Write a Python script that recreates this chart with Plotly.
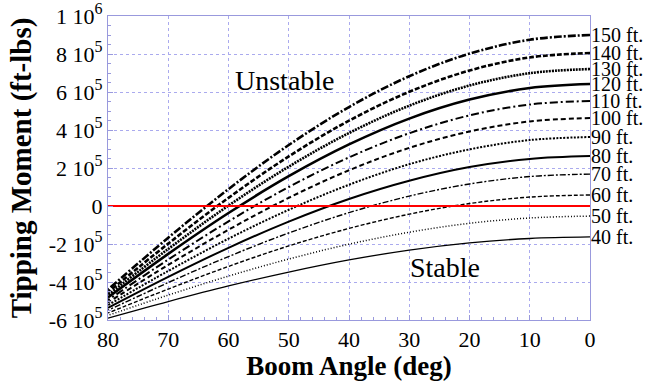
import plotly.graph_objects as go

# Boom angle (deg)
angles = [0, 10, 20, 30, 40, 50, 60, 70, 80]

# Tipping moment in units of 1e5 ft-lbs
lengths = ["40 ft.", "50 ft.", "60 ft.", "70 ft.", "80 ft.", "90 ft.",
           "100 ft.", "110 ft.", "120 ft.", "130 ft.", "140 ft.", "150 ft."]
m40  = [-1.63, -1.71, -1.94, -2.32, -2.84, -3.48, -4.21, -5.03, -5.90]
m50  = [-0.53, -0.63, -0.91, -1.38, -2.01, -2.79, -3.69, -4.69, -5.76]
m60  = [0.58, 0.47, 0.13, -0.43, -1.18, -2.10, -3.18, -4.37, -5.63]
m70  = [1.68, 1.55, 1.16, 0.52, -0.35, -1.42, -2.66, -4.03, -5.49]
m80  = [2.63, 2.48, 2.05, 1.33, 0.37, -0.82, -2.20, -3.73, -5.36]
m90  = [3.63, 3.47, 2.98, 2.20, 1.12, -0.20, -1.72, -3.42, -5.22]
m100 = [4.63, 4.45, 3.92, 3.06, 1.88, 0.43, -1.25, -3.10, -5.08]
m110 = [5.53, 5.34, 4.77, 3.83, 2.56, 1.00, -0.81, -2.82, -4.95]
m120 = [6.42, 6.21, 5.60, 4.60, 3.24, 1.57, -0.37, -2.52, -4.81]
m130 = [7.21, 6.99, 6.34, 5.28, 3.84, 2.07, 0.02, -2.26, -4.68]
m140 = [8.05, 7.82, 7.13, 6.01, 4.49, 2.61, 0.43, -1.98, -4.54]
m150 = [9.00, 8.75, 8.02, 6.83, 5.21, 3.21, 0.89, -1.67, -4.40]
series = [m40, m50, m60, m70, m80, m90, m100, m110, m120, m130, m140, m150]

y_ticks = [-6e5, -4e5, -2e5, 0, 2e5, 4e5, 6e5, 8e5, 1e6]
y_mant = ["-6", "-4", "-2", "0", "2", "4", "6", "8", "1"]
y_exp = ["5", "5", "5", "", "5", "5", "5", "5", "6"]
x_ticks = [80, 70, 60, 50, 40, 30, 20, 10, 0]

y_ticktext = [m if e == "" else f"{m} 10<sup><span style='font-size:16px'>{e}</span></sup>"
              for m, e in zip(y_mant, y_exp)]

styles = [
    ("solid", 1.3), ("1px,2px", 1.5), ("4px,2px", 1.4), ("6px,2px,2px,2px", 1.4),
    ("solid", 2.0), ("2px,1.5px", 2.0), ("5px,3px", 2.0), ("8px,3px,2px,3px", 2.0),
    ("solid", 2.6), ("2px,1px", 2.6), ("5px,2px", 2.6), ("8px,2px,2px,2px", 2.6),
]

SERIF = "Liberation Serif, Times New Roman, serif"

fig = go.Figure()
for name, vals, (dash, w) in zip(lengths, series, styles):
    fig.add_trace(go.Scatter(
        x=angles, y=[v * 1e5 for v in vals], mode="lines", name=name,
        line=dict(color="black", width=w, dash=dash, shape="spline"),
        showlegend=False))
    fig.add_annotation(x=1.0, xref="paper", y=vals[0] * 1e5, yref="y",
                       text=name, showarrow=False, xanchor="left",
                       xshift=-1, font=dict(family=SERIF, size=20, color="black"))

fig.add_trace(go.Scatter(x=[80, 0], y=[0, 0], mode="lines",
                         line=dict(color="red", width=2), showlegend=False))

fig.add_annotation(x=50.6, y=6.63e5, text="Unstable", showarrow=False,
                   font=dict(family=SERIF, size=28, color="black"))
fig.add_annotation(x=24.1, y=-3.26e5, text="Stable", showarrow=False,
                   font=dict(family=SERIF, size=28, color="black"))

gridc = "#aaaaee"
fig.update_layout(
    width=653, height=381,
    margin=dict(l=108, r=63, t=16, b=61, autoexpand=False),
    paper_bgcolor="white", plot_bgcolor="white",
    font=dict(family=SERIF, size=22, color="black"),
    xaxis=dict(range=[80, 0], tickvals=x_ticks, showgrid=True, automargin=False,
               gridcolor=gridc, griddash="dot", gridwidth=1,
               showline=True, mirror=True, linecolor="#9999dd", linewidth=1,
               ticks="inside", ticklen=5, tickcolor="#9999dd",
               minor=dict(dtick=2, ticks="inside", ticklen=3, tickcolor="#9999dd", showgrid=False),
               zeroline=False, ticklabeloverflow="allow",
               title=dict(text="<b>Boom Angle (deg)</b>", font=dict(family=SERIF, size=27), standoff=0),
               tickfont=dict(family=SERIF, size=22)),
    yaxis=dict(range=[-6e5, 1e6], tickvals=y_ticks, ticktext=y_ticktext, automargin=False,
               showgrid=True, gridcolor=gridc, griddash="dot", gridwidth=1,
               showline=True, mirror=True, linecolor="#9999dd", linewidth=1,
               ticks="inside", ticklen=5, tickcolor="#9999dd",
               minor=dict(dtick=5e4, ticks="inside", ticklen=3, tickcolor="#9999dd", showgrid=False),
               zeroline=False, ticklabeloverflow="allow",
               title=dict(text="<b>Tipping Moment (ft-lbs)</b>", font=dict(family=SERIF, size=29), standoff=8),
               tickfont=dict(family=SERIF, size=22)),
)

fig.write_html("out.html")
